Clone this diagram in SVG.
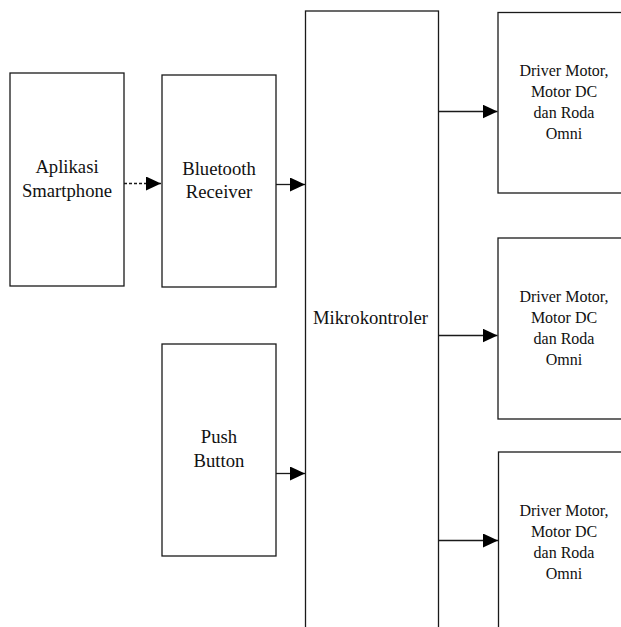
<svg xmlns="http://www.w3.org/2000/svg" width="621" height="627" viewBox="0 0 621 627">
  <style>
    .box { fill: #ffffff; stroke: #1a1a1a; stroke-width: 1.3; }
    .lbl { font-family: "Liberation Serif", "Times New Roman", serif; font-size: 18.67px; fill: #111; text-anchor: middle; }
    .lbs { font-family: "Liberation Serif", "Times New Roman", serif; font-size: 16px; fill: #111; text-anchor: middle; }
    .conn { fill: none; stroke: #1a1a1a; stroke-width: 1.3; marker-end: url(#arrow); }
    .dash { stroke-dasharray: 3 2; }
  </style>
  <defs>
    <marker id="arrow" viewBox="0 0 15 14" refX="15" refY="7" markerWidth="15" markerHeight="14" markerUnits="userSpaceOnUse" orient="auto">
      <path d="M0,0 L15,7 L0,14 z" fill="#000"/>
    </marker>
  </defs>
  <rect width="621" height="627" fill="#ffffff"/>

  <g id="aplikasi">
    <rect class="box" x="10" y="73" width="114" height="213"/>
    <text class="lbl" x="67" y="172.5">Aplikasi</text>
    <text class="lbl" x="67" y="196.5">Smartphone</text>
  </g>

  <g id="bluetooth">
    <rect class="box" x="162" y="75" width="114" height="212"/>
    <text class="lbl" x="219" y="174.5">Bluetooth</text>
    <text class="lbl" x="219" y="198">Receiver</text>
  </g>

  <g id="pushbutton">
    <rect class="box" x="162" y="344" width="114" height="212"/>
    <text class="lbl" x="219" y="443">Push</text>
    <text class="lbl" x="219" y="466.5">Button</text>
  </g>

  <g id="mikrokontroler">
    <rect class="box" x="305.5" y="11" width="133" height="640"/>
    <text class="lbl" x="370.5" y="324">Mikrokontroler</text>
  </g>

  <g id="driver1">
    <rect class="box" x="498" y="12.5" width="140" height="180.5"/>
    <text class="lbs" x="564" y="76">Driver Motor,</text>
    <text class="lbs" x="564" y="97">Motor DC</text>
    <text class="lbs" x="564" y="118">dan Roda</text>
    <text class="lbs" x="564" y="139">Omni</text>
  </g>

  <g id="driver2">
    <rect class="box" x="498" y="238" width="140" height="181"/>
    <text class="lbs" x="564" y="301.5">Driver Motor,</text>
    <text class="lbs" x="564" y="322.5">Motor DC</text>
    <text class="lbs" x="564" y="343.5">dan Roda</text>
    <text class="lbs" x="564" y="364.5">Omni</text>
  </g>

  <g id="driver3">
    <rect class="box" x="498.5" y="452" width="140" height="200"/>
    <text class="lbs" x="564" y="515.5">Driver Motor,</text>
    <text class="lbs" x="564" y="536.5">Motor DC</text>
    <text class="lbs" x="564" y="557.5">dan Roda</text>
    <text class="lbs" x="564" y="578.5">Omni</text>
  </g>

  <g id="connectors">
    <line class="conn dash" x1="124" y1="183.5" x2="161" y2="183.5"/>
    <line class="conn" x1="276" y1="184.5" x2="305" y2="184.5"/>
    <line class="conn" x1="276" y1="473.5" x2="305" y2="473.5"/>
    <line class="conn" x1="438.5" y1="111.5" x2="497.5" y2="111.5"/>
    <line class="conn" x1="438.5" y1="335.5" x2="497.5" y2="335.5"/>
    <line class="conn" x1="438.5" y1="540.5" x2="498" y2="540.5"/>
  </g>
</svg>
